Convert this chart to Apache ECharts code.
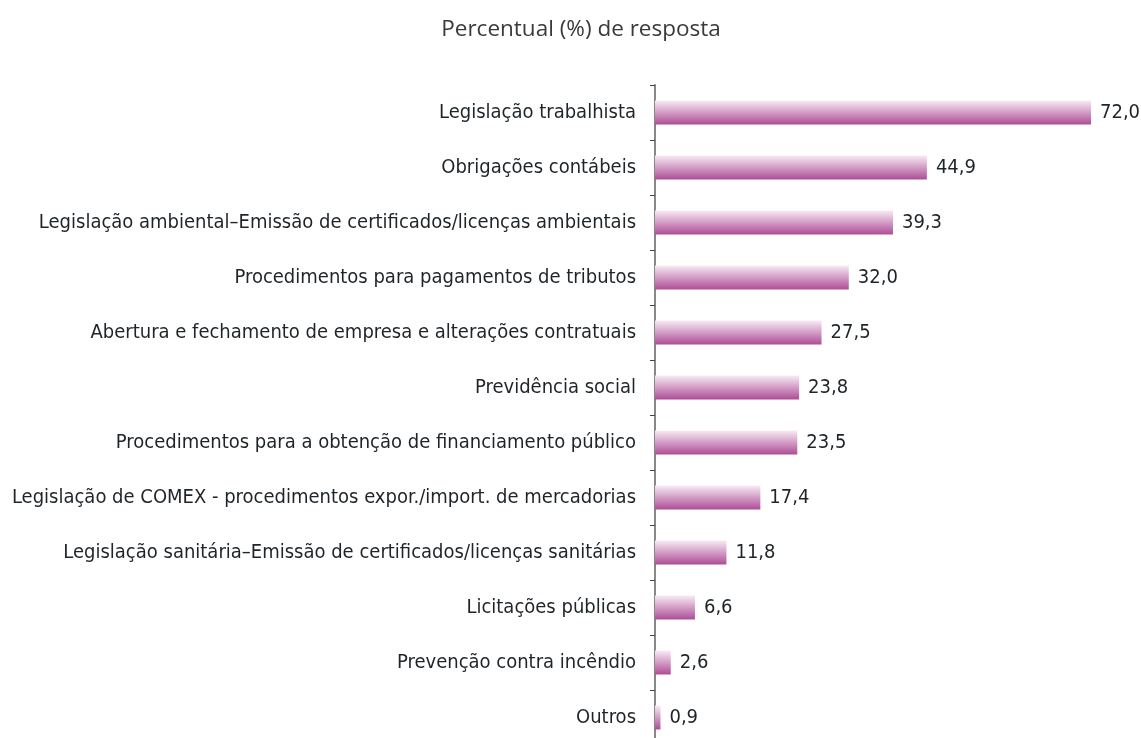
<!DOCTYPE html>
<html>
<head>
<meta charset="utf-8">
<script src="https://cdn.jsdelivr.net/npm/echarts@6/dist/echarts.min.js"></script>
<style>
  html, body { margin: 0; padding: 0; background: #fff; overflow: hidden; }
  #chart { width: 1141px; height: 760px; }
</style>
</head>
<body>
<div id="chart"></div>
<script>
// categories, top to bottom
const categories = [
  'Legislação trabalhista',
  'Obrigações contábeis',
  'Legislação ambiental–Emissão de certificados/licenças ambientais',
  'Procedimentos para pagamentos de tributos',
  'Abertura e fechamento de empresa e alterações contratuais',
  'Previdência social',
  'Procedimentos para a obtenção de financiamento público',
  'Legislação de COMEX - procedimentos expor./import. de mercadorias',
  'Legislação sanitária–Emissão de certificados/licenças sanitárias',
  'Licitações públicas',
  'Prevenção contra incêndio',
  'Outros'
];
const percentValues = [72.0, 44.9, 39.3, 32.0, 27.5, 23.8, 23.5, 17.4, 11.8, 6.6, 2.6, 0.9];

const labelFont = '"DejaVu Sans Condensed", "Liberation Sans Narrow", sans-serif';

const chart = echarts.init(document.getElementById('chart'), null, { renderer: 'canvas' });

chart.setOption({
  animation: false,
  backgroundColor: '#fff',
  title: {
    text: 'Percentual (%) de resposta',
    left: 576,
    textAlign: 'center',
    top: 13,
    textStyle: {
      color: '#3a3a3a',
      fontSize: 22.5,
      fontWeight: 'normal',
      fontFamily: '"Open Sans", sans-serif'
    }
  },
  grid: {
    left: 655,
    right: 50,
    top: 85,
    height: 660
  },
  xAxis: {
    type: 'value',
    min: 0,
    max: 72,
    show: false
  },
  yAxis: {
    type: 'category',
    data: categories,
    inverse: true,
    axisLine: { lineStyle: { color: '#888', width: 2 } },
    axisTick: { show: true, length: 5, lineStyle: { color: '#444', width: 1 } },
    axisLabel: {
      color: '#1e2428',
      fontSize: 20,
      fontFamily: labelFont,
      margin: 19
    },
    splitLine: { show: false }
  },
  series: [{
    type: 'bar',
    data: percentValues,
    barWidth: 24,
    itemStyle: {
      color: new echarts.graphic.LinearGradient(0, 0, 0, 1, [
        { offset: 0, color: '#f8ebf4' },
        { offset: 1, color: '#ad4d96' }
      ])
    },
    label: {
      show: true,
      position: 'right',
      distance: 9,
      color: '#1e2428',
      fontSize: 20,
      fontFamily: labelFont,
      formatter: p => p.value.toFixed(1).replace('.', ',')
    }
  }]
});
</script>
</body>
</html>
